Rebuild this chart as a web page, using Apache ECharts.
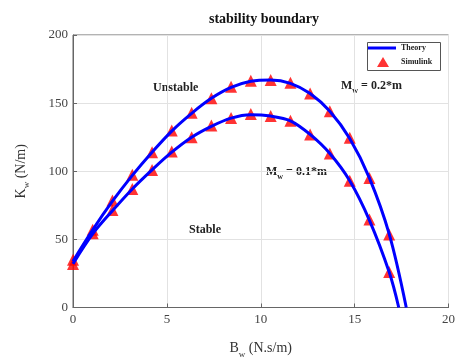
<!DOCTYPE html>
<html>
<head>
<meta charset="utf-8">
<script src="https://cdn.jsdelivr.net/npm/echarts@6/dist/echarts.min.js"></script>
<style>html,body{margin:0;padding:0;background:#fff}#c{width:458px;height:364px}</style>
</head>
<body>
<div id="c"></div>
<script>
// Simulink sample positions (B_w)
const simX = [0, 1.05, 2.1, 3.16, 4.21, 5.26, 6.32, 7.37, 8.42, 9.47, 10.53, 11.58, 12.63, 13.68, 14.74, 15.79, 16.84];
const simHigh = [35, 57, 78.5, 97.5, 114, 130, 143, 153.5, 162, 166.5, 167, 165, 157, 144, 124.5, 95, 53.5];
const simLow = [32, 54.5, 71.5, 87, 101, 114.5, 125, 133.5, 139, 142, 140.5, 137, 127, 113, 93, 64.5, 26];
// Theory curves
const theoryHighX = [0, 1.05, 2.1, 3.16, 4.21, 5.26, 6.32, 7.37, 8.42, 9.47, 10.53, 11.58, 12.63, 13.68, 14.74, 15.79, 16.84, 17.75];
const theoryHighY = [34, 57, 78, 97, 114, 129.5, 142.5, 153.5, 161.5, 166, 167, 164.5, 157, 144, 124, 95, 54, 0];
const theoryLowX = [0, 1.05, 2.1, 3.16, 4.21, 5.26, 6.32, 7.37, 8.42, 9.47, 10.53, 11.58, 12.63, 13.68, 14.74, 15.79, 16.84, 17.35];
const theoryLowY = [32, 54, 71, 87, 101, 114, 125, 133, 139, 141.5, 140.5, 137, 127, 113, 93, 64, 26, 0];
const xTicks = [0, 5, 10, 15, 20];
const yTicks = [0, 50, 100, 150, 200];

const zip = (a, b) => a.map((v, i) => [v, b[i]]);
const serif = 'Liberation Serif';
const nameRich = {
  m: { fontFamily: serif, fontSize: 14, color: '#333', lineHeight: 22 },
  s: { fontFamily: serif, fontSize: 9, color: '#333', lineHeight: 10, padding: [12, 0, 0, 0] }
};
const annRich = {
  m: { font: 'bold 12px "Liberation Serif"', fill: '#222', lineHeight: 20 },
  s: { font: 'bold 8px "Liberation Serif"', fill: '#222', lineHeight: 9, padding: [11, 0, 0, 0] }
};
const legText = { fontFamily: serif, fontWeight: 'bold', fontSize: 8, color: '#222' };
const chart = echarts.init(document.getElementById('c'));
chart.setOption({
  animation: false,
  backgroundColor: '#fff',
  title: {
    text: 'stability boundary', left: 259, top: 7, textAlign: 'center',
    textStyle: { fontFamily: serif, fontWeight: 'bold', fontSize: 14, color: '#111' }
  },
  grid: { left: 73, right: 8, top: 35, bottom: 49, show: true, borderColor: '#666', borderWidth: 1, backgroundColor: '#fff' },
  legend: [
    { left: 368, top: 44, data: [{ name: 'Theory', icon: 'path://M0,0L28,0L28,3L0,3Z' }],
      itemWidth: 28, itemHeight: 3, itemGap: 0, padding: 0, textStyle: legText },
    { left: 377, top: 57, data: [{ name: 'Simulink', icon: 'triangle' }],
      itemWidth: 12, itemHeight: 10, itemGap: 0, padding: 0, textStyle: Object.assign({ padding: [0, 0, 0, 7] }, legText) }
  ],
  xAxis: {
    type: 'value', min: 0, max: 20, interval: 5,
    name: '{m|B}{s|w}{m| (N.s/m)}', nameLocation: 'middle', nameGap: 30,
    nameTextStyle: { rich: nameRich },
    axisLine: { show: true, lineStyle: { color: '#666' } },
    axisTick: { inside: true, length: 4, lineStyle: { color: '#666' } },
    axisLabel: { fontFamily: serif, fontSize: 13, color: '#444', margin: 6, formatter: v => xTicks.includes(v) ? String(v) : '' },
    splitLine: { show: true, lineStyle: { color: '#e2e2e2' } }
  },
  yAxis: {
    type: 'value', min: 0, max: 200, interval: 50,
    name: '{m|K}{s|w}{m| (N/m)}', nameLocation: 'middle', nameGap: 41,
    nameTextStyle: { rich: nameRich },
    axisLine: { show: true, lineStyle: { color: '#666' } },
    axisTick: { inside: true, length: 4, lineStyle: { color: '#666' } },
    axisLabel: { fontFamily: serif, fontSize: 13, color: '#444', margin: 5, formatter: v => yTicks.includes(v) ? String(v) : '' },
    splitLine: { show: true, lineStyle: { color: '#e2e2e2' } }
  },
  series: [
    { name: 'Simulink', type: 'scatter', data: zip(simX, simHigh), symbol: 'triangle', symbolSize: 12, itemStyle: { color: '#ff0000' }, z: 2 },
    { name: 'Simulink', type: 'scatter', data: zip(simX, simLow), symbol: 'triangle', symbolSize: 12, itemStyle: { color: '#ff0000' }, z: 2 },
    { name: 'Theory', type: 'line', data: zip(theoryHighX, theoryHighY), smooth: 0.35, showSymbol: false, symbol: 'none', lineStyle: { color: '#0000ff', width: 3 }, itemStyle: { color: '#0000ff' }, z: 3 },
    { name: 'Theory', type: 'line', data: zip(theoryLowX, theoryLowY), smooth: 0.35, showSymbol: false, symbol: 'none', lineStyle: { color: '#0000ff', width: 3 }, itemStyle: { color: '#0000ff' }, z: 3 }
  ],
  graphic: [
    { type: 'rect', left: 367, top: 42, z: 0, shape: { width: 73, height: 28 }, style: { fill: '#fff', stroke: '#555', lineWidth: 1 } },
    { type: 'text', left: 153, top: 82, style: { text: 'Unstable', font: 'bold 12px "Liberation Serif"', fill: '#222' } },
    { type: 'text', left: 189, top: 224, style: { text: 'Stable', font: 'bold 12px "Liberation Serif"', fill: '#222' } },
    { type: 'text', left: 341, top: 76, style: { text: '{m|M}{s|w}{m| = 0.2*m}', rich: annRich } },
    { type: 'text', left: 266, top: 162, style: { text: '{m|M}{s|w}{m| = 0.1*m}', rich: annRich } }
  ]
});
</script>
</body>
</html>
